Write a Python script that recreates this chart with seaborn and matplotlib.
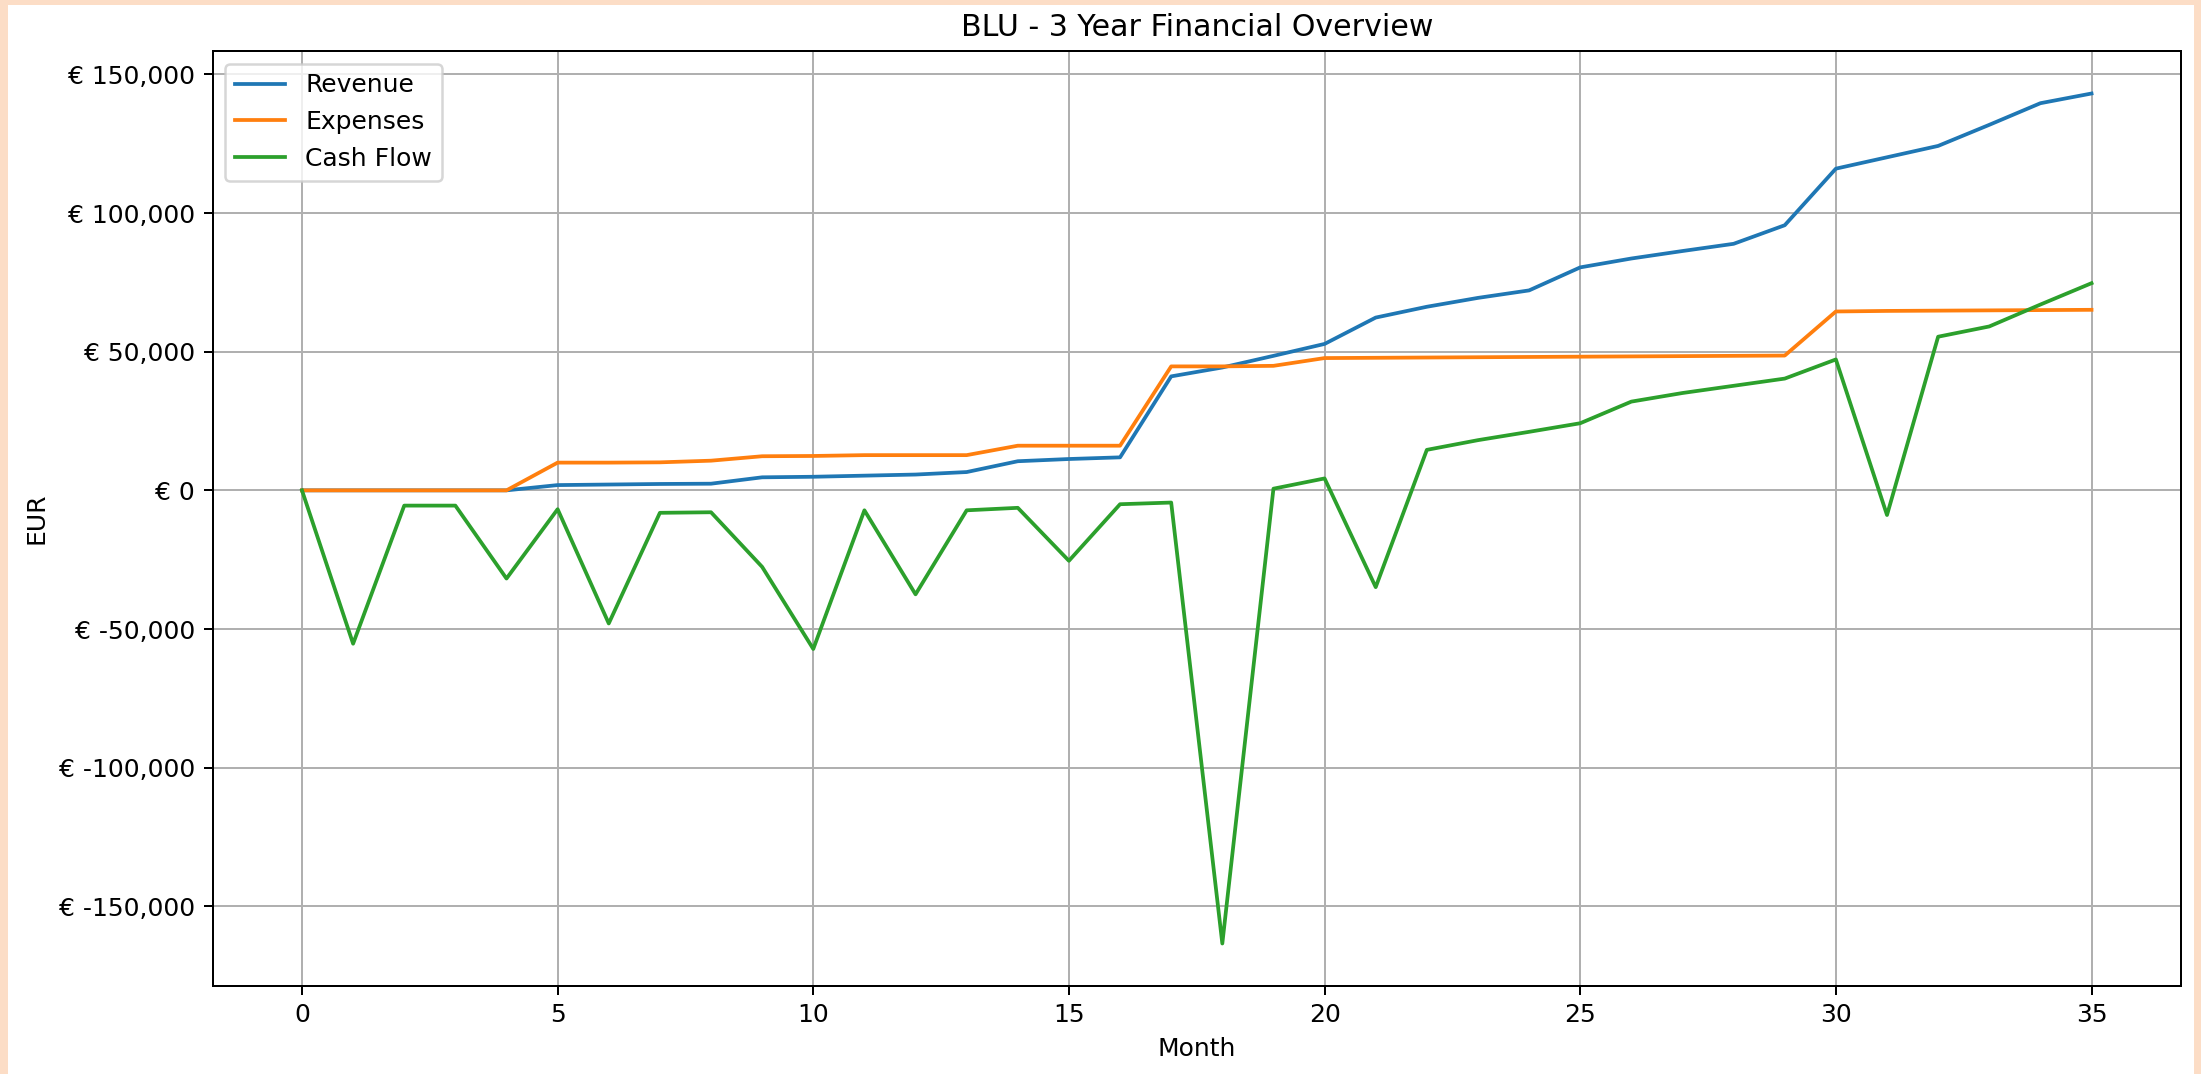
import matplotlib
matplotlib.use("Agg")
import matplotlib.pyplot as plt
import matplotlib.ticker as mticker
from matplotlib.patches import Rectangle
import seaborn as sns
import pandas as pd

# monthly figures (EUR)
months = list(range(36))
revenue = [0, 0, 0, 0, 0, 1900, 2100, 2300, 2400, 4700, 4900, 5300,
           5700, 6600, 10500, 11300, 11900, 41100, 44300, 48500, 52800, 62300,
           66200, 69400, 72100, 80400, 83600, 86300, 88900, 95600, 116000, 120100,
           124200, 131800, 139600, 143100]
expenses = [0, 0, 0, 0, 0, 10000, 10000, 10100, 10700, 12300, 12400, 12700,
            12700, 12700, 16100, 16100, 16100, 44700, 44700, 44900, 47700, 47800,
            47900, 48000, 48100, 48200, 48300, 48400, 48500, 48600, 64500, 64700,
            64800, 64900, 65000, 65100]
cash_flow = [0, -55300, -5500, -5500, -31800, -6800, -48000, -8100, -7900, -27600, -57200, -7200,
             -37500, -7200, -6300, -25400, -5000, -4400, -163400, 600, 4300, -34900,
             14600, 18100, 21100, 24200, 32000, 35100, 37700, 40300, 47200, -8900,
             55400, 59100, 67000, 74700]

series_names = ["Revenue", "Expenses", "Cash Flow"]
series_colors = ["#1f77b4", "#ff7f0e", "#2ca02c"]

df = pd.DataFrame({
    "Month": months * 3,
    "EUR": revenue + expenses + cash_flow,
    "Series": [n for n in series_names for _ in months],
})

# dpi 180 so the default sizes come out like the (upscaled) screenshot
fig = plt.figure(figsize=(2201 / 180, 1074 / 180), dpi=180, facecolor="#fcddc6")
# white page inside the peach frame, kept behind the axes
fig.patches.append(Rectangle((8 / 2201, 0), 2186 / 2201, 1069 / 1074,
                             transform=fig.transFigure, facecolor="white",
                             edgecolor="none", zorder=-10))
ax = fig.add_axes([212.5 / 2201, 1 - 986 / 1074, (2181 - 212.5) / 2201, (986 - 51) / 1074])

sns.lineplot(data=df, x="Month", y="EUR", hue="Series", hue_order=series_names,
             palette=series_colors, ax=ax, linewidth=1.5)

ax.grid(True, color="#b0b0b0", linewidth=0.8)
ax.set_axisbelow(True)
ax.yaxis.set_major_formatter(mticker.FuncFormatter(lambda v, p: f"€ {v:,.0f}"))
ax.set_title("BLU - 3 Year Financial Overview")
ax.set_xlabel("Month")
ax.set_ylabel("EUR")
ax.legend(loc="upper left", title=None)

fig.savefig("out.png", dpi=180, facecolor=fig.get_facecolor())
